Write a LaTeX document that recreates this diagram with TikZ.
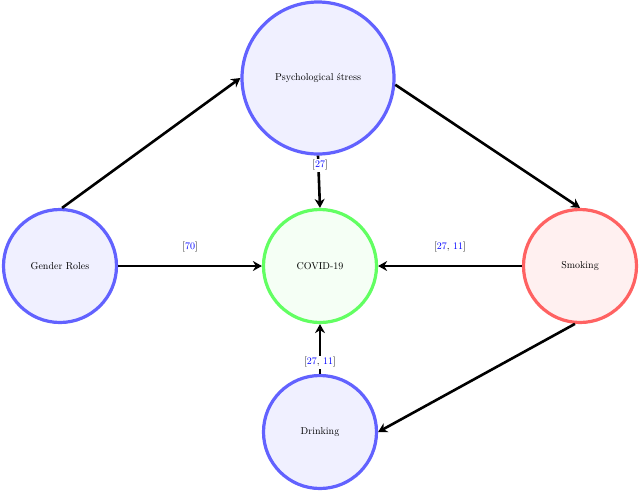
\documentclass[tikz,border=0pt]{standalone}
\usetikzlibrary{arrows.meta}
\definecolor{bl}{RGB}{98,98,255}
\definecolor{blf}{RGB}{240,240,255}
\definecolor{gr}{RGB}{98,255,98}
\definecolor{grf}{RGB}{245,255,245}
\definecolor{rd}{RGB}{255,98,98}
\definecolor{rdf}{RGB}{255,240,240}
\definecolor{cite}{RGB}{0,0,255}
\tikzset{
  circ/.style={circle, line width=3.2pt, inner sep=0pt, font=\normalsize},
  bluec/.style={circ, draw=bl, fill=blf, minimum size=113pt},
  conn/.style={line width=2.6pt, -{Stealth[length=9pt,width=10pt]}},
  lbl/.style={fill=white, inner sep=1.5pt}
}
\begin{document}
\begin{tikzpicture}[x=1pt,y=-1pt]
\useasboundingbox (0,0) rectangle (640,493);
\node[bluec, minimum size=152pt] (ps) at (318,78) {Psychological \'stress};
\node[bluec] (gen) at (60,266) {Gender Roles};
\node[circ, draw=gr, fill=grf, minimum size=113pt] (cov) at (320,266) {COVID-19};
\node[circ, draw=rd, fill=rdf, minimum size=113pt] (smk) at (580,266) {Smoking};
\node[bluec] (dr) at (320,432) {Drinking};
\draw[conn] (gen.88) -- (ps.west);
\draw[conn] (ps.-5) -- (smk.north);
\draw[conn] (smk.-95) -- (dr.east);
\draw[conn] (gen.east) -- (cov.west);
\draw[conn] (smk.west) -- (cov.east);
\draw[conn] (ps.south) -- (cov.north);
\draw[conn] (dr.north) -- (cov.south);
\node[lbl] (l1) at (320,165) {[\textcolor{cite}{27}]};
\node[lbl] (l2) at (190,247) {[\textcolor{cite}{70}]};
\node[lbl] (l3) at (450,247) {[\textcolor{cite}{27}, \textcolor{cite}{11}]};
\node[lbl] (l4) at (320,362) {[\textcolor{cite}{27}, \textcolor{cite}{11}]};
\end{tikzpicture}
\end{document}
